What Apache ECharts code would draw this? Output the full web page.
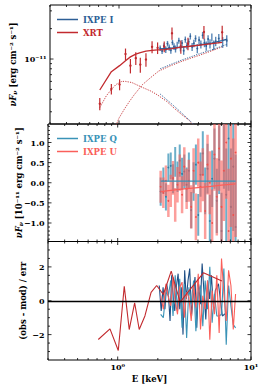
<!DOCTYPE html>
<html><head><meta charset="utf-8">
<script src="https://cdn.jsdelivr.net/npm/echarts@6/dist/echarts.min.js"></script>
<style>html,body{margin:0;padding:0;background:#fff}#c{width:266px;height:390px}</style>
</head><body><div id="c"></div>
<script>
// ---------------- data (flux values in units of 1e-11 erg cm^-2 s^-1) ----------------
const FLUX_UNIT = 1e-11;
// XRT
const xrtE      = [0.715,0.875,1.01,1.12,1.22,1.34,1.45,1.60,1.78,1.96,2.20,2.52,2.94,3.33,4.40,6.05];
const xrtFlux   = [0.36,0.505,0.56,1.12,0.86,1.02,0.88,0.99,1.32,1.29,1.33,1.80,1.33,1.42,1.85,1.84];
const xrtErr    = [0.05,0.06,0.07,0.15,0.14,0.15,0.15,0.15,0.18,0.17,0.16,0.25,0.20,0.20,0.28,0.30];
const xrtModel  = [0.493,0.749,0.86,0.962,1.05,1.12,1.16,1.20,1.22,1.23,1.24,1.27,1.31,1.33,1.39,1.46];
const xrtResid  = [-2.29,-1.66,-2.94,0.86,-1.70,-0.12,-1.70,-0.90,0.50,0.90,0.37,1.75,-0.08,0.47,1.65,1.16];
// XRT model components
const xrtThermE = [0.715,0.80,0.875,0.95,1.05,1.12,1.25,1.47,1.75,1.96,2.30,2.62,3.00,3.30,3.60,4.00,4.60];
const xrtThermV = [0.33,0.43,0.50,0.56,0.60,0.60,0.585,0.53,0.48,0.44,0.38,0.325,0.28,0.255,0.228,0.195,0.16];
const xrtPlE    = [0.92,1.00,1.10,1.20,1.30,1.50,1.75,2.00,2.47,3.00,3.50,4.16,5.00,6.05];
const xrtPlV    = [0.20,0.26,0.32,0.38,0.44,0.555,0.66,0.76,0.86,0.95,1.02,1.10,1.20,1.32];
// IXPE I
const ixE     = [2.05,2.12,2.19,2.26,2.33,2.40,2.47,2.54,2.61,2.68,2.76,2.84,2.92,3.00,3.09,3.18,3.27,3.37,3.47,3.58,3.69,3.80,3.92,4.04,4.17,4.30,4.44,4.58,4.73,4.89,5.05,5.22,5.40,5.70,6.10,6.55];
const ixFlux  = [1.28,1.20,1.35,1.24,1.42,1.30,1.22,1.46,1.33,1.26,1.38,1.52,1.29,1.44,1.21,1.56,1.36,1.48,1.68,1.32,1.43,1.60,1.27,1.54,1.40,1.72,1.45,1.35,1.58,1.42,1.64,1.38,1.50,1.60,1.47,1.52];
const ixErr   = [0.08,0.08,0.08,0.09,0.09,0.09,0.09,0.09,0.10,0.10,0.10,0.10,0.10,0.10,0.11,0.11,0.11,0.11,0.12,0.12,0.12,0.12,0.13,0.13,0.13,0.13,0.14,0.14,0.14,0.15,0.15,0.15,0.16,0.17,0.18,0.20];
const ixResid = [0.9,-0.6,0.8,-0.5,1.0,0.4,-1.2,1.5,0.2,-0.6,0.9,1.6,-0.5,0.8,-2.0,1.8,0.1,1.2,1.9,-0.9,0.3,1.4,-1.6,1.0,-0.2,2.2,0.5,-1.1,1.2,0.1,1.5,-0.4,0.6,1.0,-0.9,-0.7];
const ixModelE = [2.05,2.50,3.00,3.50,4.00,4.50,5.00,5.50,6.00,6.60];
const ixModelV = [1.26,1.28,1.31,1.34,1.37,1.41,1.44,1.48,1.52,1.57];
const ixThermE = [2.05,2.50,3.00,3.50,4.00,4.60];
const ixThermV = [0.45,0.36,0.29,0.24,0.20,0.165];
const ixPlE    = [2.05,2.50,3.00,3.50,4.00,5.00,6.00,6.60];
const ixPlV    = [0.80,0.89,0.98,1.05,1.12,1.23,1.34,1.40];
// IXPE Q / U (1e-11 units)
const polE   = [2.10,2.20,2.30,2.40,2.50,2.60,2.70,2.81,2.92,3.04,3.16,3.29,3.42,3.56,3.71,3.86,4.02,4.18,4.35,4.53,4.72,4.91,5.11,5.32,5.54,5.77,6.01,6.26,6.52,6.79,7.07,7.36,7.66];
const qFlux  = [-0.22,0.05,-0.35,0.38,0.42,0.10,0.52,0.15,0.55,0.22,0.28,-0.05,0.30,-0.68,0.03,0.45,-0.80,0.20,0.73,-0.20,0.35,-0.95,0.10,0.60,-0.45,0.57,-1.20,0.90,-0.30,1.10,-0.60,0.40,-1.10];
const qErr   = [0.35,0.33,0.34,0.35,0.33,0.36,0.37,0.38,0.40,0.40,0.42,0.43,0.45,0.45,0.48,0.50,0.52,0.55,0.55,0.58,0.62,0.65,0.70,0.75,0.80,0.85,0.95,1.05,1.15,1.30,1.45,1.60,1.80];
const uFlux  = [-0.10,-0.25,0.05,-0.45,-0.20,0.12,-0.55,-0.05,0.25,-0.30,0.40,-0.15,0.05,-0.60,0.30,-0.85,0.50,-0.10,0.20,-0.70,0.45,0.00,-1.00,0.70,-0.35,0.85,-0.60,0.30,1.00,-1.20,0.60,-0.80,0.75];
const uErr   = [0.40,0.38,0.38,0.40,0.40,0.42,0.42,0.44,0.45,0.46,0.48,0.50,0.52,0.54,0.56,0.58,0.60,0.63,0.66,0.70,0.74,0.78,0.83,0.90,0.96,1.05,1.15,1.25,1.40,1.55,1.70,1.90,2.10];
const qModelE = [2.10,7.66]; const qModelV = [0.04,0.04];
const uModelE = [2.10,3.00,4.00,5.00,6.00,7.00,7.66]; const uModelV = [-0.22,-0.16,-0.12,-0.09,-0.06,-0.04,-0.03];
const qResid = [-0.8,-1.0,0.5,0.3,1.2,-0.9,1.5,-0.6,1.3,-1.6,1.0,-2.2,0.8,-0.2,1.2,-1.8,0.5,0.9,-1.5,1.2,-0.5,2.0,-1.3,0.4,-0.9,-0.9,-0.8,1.9,-2.6,0.9,-0.3,-1.4,-1.6];
const uResid = [0.3,-0.5,1.0,0.2,-0.3,1.4,0.0,-0.8,0.8,1.1,-1.0,0.5,0.2,-1.2,0.9,-0.4,1.6,-1.7,0.3,-0.5,1.2,-2.3,0.6,-0.8,1.5,-1.9,2.5,0.4,-1.2,1.8,0.9,-1.7,0.4];
// ticks
const xMajorTicks = [1, 10];
const xTickLabels = ['10⁰', '10¹'];
const xMinorTicks = [0.3,0.4,0.5,0.6,0.7,0.8,0.9,2,3,4,5,6,7,8,9];
const fluxMajorTicks = [1e-11];
const fluxTickLabels = ['10⁻¹¹'];
const fluxMinorTicks = [3e-12,4e-12,5e-12,6e-12,7e-12,8e-12,9e-12,2e-11,3e-11];
const polMajorTicks = [-1,-0.5,0,0.5,1];
const polTickLabels = ['−1.0','−0.5','0.0','0.5','1.0'];
const polMinorTicks = [-1.4,-1.3,-1.2,-1.1,-0.9,-0.8,-0.7,-0.6,-0.4,-0.3,-0.2,-0.1,0.1,0.2,0.3,0.4,0.6,0.7,0.8,0.9,1.1,1.2,1.3,1.4];
const resMajorTicks = [-2,0,2];
const resTickLabels = ['−2','0','2'];
const resMinorTicks = [-3,-2.5,-1.5,-1,-0.5,0.5,1,1.5,2.5,3];

// ---------------- styling ----------------
const FONT = '"DejaVu Serif", serif';
const C_I = '#2d5f96', C_X = '#c22a2e', C_Q = '#3a93b7', C_U = '#fa5f5a';
const C_IRES = '#1f4f86';

const zip = (a, b, s) => a.map((v, i) => [v, b[i] * (s || 1)]);
const errRows = (e, v, err, s) => e.map((x, i) => [x, v[i] * s, (v[i] - err[i]) * s, (v[i] + err[i]) * s]);

function errSeries(gi, rows, color, width, opacity, dotColor, r) {
  return {
    type: 'custom', xAxisIndex: gi, yAxisIndex: gi, clip: true, silent: true,
    data: rows, encode: { x: 0, y: 1 },
    renderItem: function (params, api) {
      const cs = params.coordSys;
      const E = api.value(0);
      const p0 = api.coord([E, api.value(2)]);
      const p1 = api.coord([E, api.value(3)]);
      const pc = api.coord([E, api.value(1)]);
      const top = cs.y, bot = cs.y + cs.height;
      const y0 = Math.min(bot, Math.max(top, p0[1]));
      const y1 = Math.min(bot, Math.max(top, p1[1]));
      const ch = [{ type: 'line', shape: { x1: p0[0], y1: y0, x2: p1[0], y2: y1 },
        style: { stroke: color, lineWidth: width, opacity: opacity } }];
      if (pc[1] >= top && pc[1] <= bot) {
        ch.push({ type: 'circle', shape: { cx: pc[0], cy: pc[1], r: r }, style: { fill: dotColor } });
      }
      return { type: 'group', children: ch };
    }
  };
}
function lineSeries(gi, name, data, color, width, dotted, z) {
  return {
    type: 'line', name: name, xAxisIndex: gi, yAxisIndex: gi, data: data,
    showSymbol: false, symbol: 'none', silent: true, z: z || 3,
    itemStyle: { color: color },
    lineStyle: { color: color, width: width, type: dotted ? [1.2, 1.2] : 'solid' }
  };
}
function xTickSeries(gi, ticks, major, yRef) {
  return {
    type: 'custom', xAxisIndex: gi, yAxisIndex: gi, silent: true, z: 10,
    data: ticks.map(v => [v, yRef]), encode: { x: 0, y: 1 },
    renderItem: function (params, api) {
      const cs = params.coordSys;
      const x = api.coord([api.value(0), api.value(1)])[0];
      const len = major ? 3.5 : 2;
      const st = { stroke: '#000', lineWidth: 0.8 };
      return { type: 'group', children: [
        { type: 'line', shape: { x1: x, y1: cs.y + cs.height, x2: x, y2: cs.y + cs.height - len }, style: st },
        { type: 'line', shape: { x1: x, y1: cs.y, x2: x, y2: cs.y + len }, style: st }
      ] };
    }
  };
}
function yTickSeries(gi, ticks, major, xRef) {
  return {
    type: 'custom', xAxisIndex: gi, yAxisIndex: gi, silent: true, z: 10,
    data: ticks.map(v => [xRef, v]), encode: { x: 0, y: 1 },
    renderItem: function (params, api) {
      const cs = params.coordSys;
      const y = api.coord([api.value(0), api.value(1)])[1];
      const len = major ? 3.5 : 2;
      const st = { stroke: '#000', lineWidth: 0.8 };
      return { type: 'group', children: [
        { type: 'line', shape: { x1: cs.x, y1: y, x2: cs.x + len, y2: y }, style: st },
        { type: 'line', shape: { x1: cs.x + cs.width, y1: y, x2: cs.x + cs.width - len, y2: y }, style: st }
      ] };
    }
  };
}
function yLabelSeries(gi, ticks, labels, xRef) {
  return {
    type: 'custom', xAxisIndex: gi, yAxisIndex: gi, silent: true, z: 10,
    data: ticks.map(v => [xRef, v]), encode: { x: 0, y: 1 },
    renderItem: function (params, api) {
      const cs = params.coordSys;
      const y = api.coord([api.value(0), api.value(1)])[1];
      return { type: 'text', style: { text: labels[params.dataIndex], x: cs.x - 3.5, y: y,
        align: 'right', verticalAlign: 'middle', fontFamily: FONT, fontWeight: 'bold', fontSize: 8, fill: '#000' } };
    }
  };
}
function xLabelSeries(gi, ticks, labels, yRef) {
  return {
    type: 'custom', xAxisIndex: gi, yAxisIndex: gi, silent: true, z: 10,
    data: ticks.map(v => [v, yRef]), encode: { x: 0, y: 1 },
    renderItem: function (params, api) {
      const cs = params.coordSys;
      const x = api.coord([api.value(0), api.value(1)])[0];
      return { type: 'text', style: { text: labels[params.dataIndex], x: x, y: cs.y + cs.height + 3,
        align: 'center', verticalAlign: 'top', fontFamily: FONT, fontWeight: 'bold', fontSize: 8, fill: '#000' } };
    }
  };
}

const nameRich = {
  it: { fontStyle: 'italic', fontWeight: 'bold', fontFamily: FONT, fontSize: 8.5, color: '#000' },
  sub: { fontStyle: 'italic', fontWeight: 'bold', fontFamily: FONT, fontSize: 6, color: '#000', verticalAlign: 'bottom', lineHeight: 6 },
  n: { fontWeight: 'bold', fontFamily: FONT, fontSize: 8.5, color: '#000' }
};
const nameStyle = { fontFamily: FONT, fontWeight: 'bold', fontSize: 8.5, color: '#000', rich: nameRich };
const hidden = { axisLine: { show: false }, axisTick: { show: false }, axisLabel: { show: false }, splitLine: { show: false } };
const gridBase = { left: 48, width: 203, show: true, borderColor: '#000', borderWidth: 1, backgroundColor: 'transparent' };

const legendText = { fontFamily: FONT, fontWeight: 'bold', fontSize: 8.5 };

const option = {
  animation: false,
  grid: [
    Object.assign({ top: 5, height: 119 }, gridBase),
    Object.assign({ top: 124, height: 117.5 }, gridBase),
    Object.assign({ top: 241.5, height: 118.5 }, gridBase)
  ],
  xAxis: [
    Object.assign({ type: 'log', logBase: 10, min: 0.3, max: 10, gridIndex: 0 }, hidden),
    Object.assign({ type: 'log', logBase: 10, min: 0.3, max: 10, gridIndex: 1 }, hidden),
    Object.assign({ type: 'log', logBase: 10, min: 0.3, max: 10, gridIndex: 2, name: 'E [keV]',
      nameLocation: 'middle', nameGap: 14, nameTextStyle: { fontFamily: FONT, fontWeight: 'bold', fontSize: 8.5, color: '#000' } }, hidden)
  ],
  yAxis: [
    Object.assign({ type: 'log', logBase: 10, min: 2.27e-12, max: 3.43e-11, gridIndex: 0,
      name: '{it|νF}{sub|ν}{n| [erg cm⁻² s⁻¹]}', nameLocation: 'middle', nameRotate: 90, nameGap: 33, nameTextStyle: nameStyle }, hidden),
    Object.assign({ type: 'value', min: -1.46, max: 1.46, gridIndex: 1,
      name: '{it|νF}{sub|ν}{n| [10⁻¹¹ erg cm⁻² s⁻¹]}', nameLocation: 'middle', nameRotate: 90, nameGap: 25, nameTextStyle: nameStyle }, hidden),
    Object.assign({ type: 'value', min: -3.5, max: 3.5, gridIndex: 2,
      name: '(obs - mod) / err', nameLocation: 'middle', nameRotate: 90, nameGap: 21, nameTextStyle: nameStyle }, hidden)
  ],
  legend: [
    { data: [{ name: 'IXPE I', textStyle: { color: C_I } }, { name: 'XRT', textStyle: { color: C_X } }],
      left: 52, top: 10, orient: 'vertical', icon: 'rect', itemWidth: 21, itemHeight: 1.5, itemGap: 4,
      textStyle: legendText, selectedMode: false },
    { data: [{ name: 'IXPE Q', textStyle: { color: C_Q } }, { name: 'IXPE U', textStyle: { color: C_U } }],
      left: 52, top: 129, orient: 'vertical', icon: 'rect', itemWidth: 21, itemHeight: 1.5, itemGap: 4,
      textStyle: legendText, selectedMode: false }
  ],
  series: [
    // top panel components (dotted)
    lineSeries(0, 'xrt therm', zip(xrtThermE, xrtThermV, FLUX_UNIT), C_X, 0.9, true, 2),
    lineSeries(0, 'xrt pl', zip(xrtPlE, xrtPlV, FLUX_UNIT), C_X, 0.9, true, 2),
    lineSeries(0, 'ixpe therm', zip(ixThermE, ixThermV, FLUX_UNIT), C_I, 0.9, true, 2),
    lineSeries(0, 'ixpe pl', zip(ixPlE, ixPlV, FLUX_UNIT), C_I, 0.9, true, 2),
    errSeries(0, errRows(ixE, ixFlux, ixErr, FLUX_UNIT), '#3d72aa', 1.4, 0.85, C_I, 0.9),
    errSeries(0, errRows(xrtE, xrtFlux, xrtErr, FLUX_UNIT), C_X, 1.2, 1, C_X, 1.2),
    lineSeries(0, 'IXPE I', zip(ixModelE, ixModelV, FLUX_UNIT), C_I, 1.3, false, 4),
    lineSeries(0, 'XRT', zip(xrtE, xrtModel, FLUX_UNIT), C_X, 1.3, false, 5),
    // middle panel
    errSeries(1, errRows(polE, qFlux, qErr, 1), C_Q, 2, 0.75, '#2b7fa6', 0.9),
    errSeries(1, errRows(polE, uFlux, uErr, 1), C_U, 2.5, 0.6, '#f0504c', 0.9),
    lineSeries(1, 'IXPE Q', zip(qModelE, qModelV), C_Q, 1.3, false, 5),
    lineSeries(1, 'IXPE U', zip(uModelE, uModelV), C_U, 1.3, false, 5),
    // bottom panel residuals
    lineSeries(2, 'res I', zip(ixE, ixResid), C_IRES, 1.1, false, 3),
    lineSeries(2, 'res Q', zip(polE, qResid), C_Q, 1.1, false, 3),
    lineSeries(2, 'res U', zip(polE, uResid), C_U, 1.1, false, 3),
    Object.assign(lineSeries(2, 'res XRT', zip(xrtE, xrtResid), C_X, 1.1, false, 4), {
      markLine: { silent: true, symbol: 'none', label: { show: false },
        lineStyle: { color: '#000', width: 1.3, type: 'solid' }, data: [{ yAxis: 0 }] }
    }),
    // ticks & labels
    xTickSeries(0, xMajorTicks, true, 1e-11), xTickSeries(0, xMinorTicks, false, 1e-11),
    xTickSeries(1, xMajorTicks, true, 0), xTickSeries(1, xMinorTicks, false, 0),
    xTickSeries(2, xMajorTicks, true, 0), xTickSeries(2, xMinorTicks, false, 0),
    yTickSeries(0, fluxMajorTicks, true, 1), yTickSeries(0, fluxMinorTicks, false, 1),
    yTickSeries(1, polMajorTicks, true, 1), yTickSeries(1, polMinorTicks, false, 1),
    yTickSeries(2, resMajorTicks, true, 1), yTickSeries(2, resMinorTicks, false, 1),
    yLabelSeries(0, fluxMajorTicks, fluxTickLabels, 1),
    yLabelSeries(1, polMajorTicks, polTickLabels, 1),
    yLabelSeries(2, resMajorTicks, resTickLabels, 1),
    xLabelSeries(2, xMajorTicks, xTickLabels, 0)
  ]
};
const chart = echarts.init(document.getElementById('c'), null, { renderer: 'svg' });
chart.setOption(option);
</script></body></html>
